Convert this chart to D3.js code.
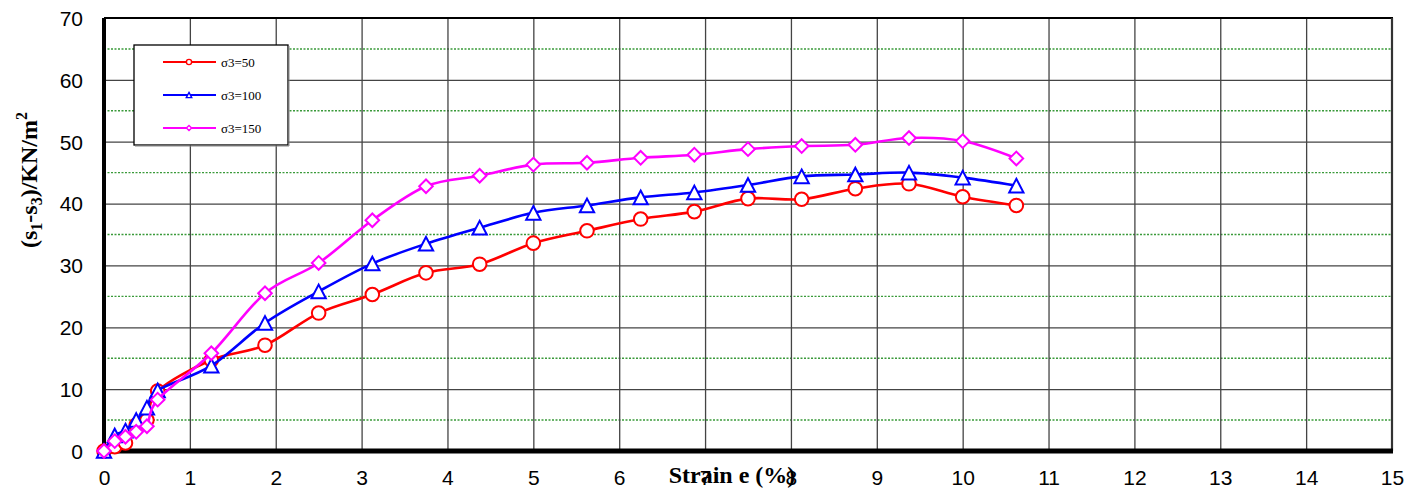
<!DOCTYPE html>
<html><head><meta charset="utf-8">
<script src="https://cdn.jsdelivr.net/npm/d3@7"></script>
<style>body{margin:0;background:#fff}svg{display:block}</style></head>
<body><svg id="c" width="1423" height="492"></svg>
<script>
const strain=[0,0.125,0.25,0.375,0.5,0.625,1.25,1.875,2.5,3.125,3.75,4.375,5,5.625,6.25,6.875,7.5,8.125,8.75,9.375,10,10.625];
const s50 =[0,0.7,1.3,4.2,5.0,9.7,14.7,17.1,22.3,25.3,28.8,30.2,33.6,35.6,37.5,38.7,40.8,40.7,42.4,43.2,41.1,39.7];
const s100=[0,2.5,3.3,5.0,7.0,9.8,13.8,20.7,25.8,30.3,33.5,36.1,38.5,39.7,41.0,41.8,43.0,44.4,44.7,45.0,44.2,42.9];
const s150=[0,1.6,2.3,3.1,4.0,8.3,15.8,25.5,30.4,37.3,42.8,44.5,46.3,46.6,47.4,47.9,48.8,49.3,49.5,50.6,50.1,47.3];
const seriesNames=["σ3=50","σ3=100","σ3=150"];
const seriesColors=["#ff0000","#0000ff","#ff00ff"];
const seriesMarkers=["circle","triangle","diamond"];
const xTicks=d3.range(0,16,1);
const yTicks=d3.range(0,71,10);
const yMinor=d3.range(5,70,10);

const svg=d3.select("#c");
const x=d3.scaleLinear().domain([0,15]).range([104,1392]);
const y=d3.scaleLinear().domain([0,70]).range([451,18]);
const SANS="Liberation Sans, Arial, sans-serif";
const SERIF="Liberation Serif, Times New Roman, serif";

// minor green dotted gridlines
svg.append("g").selectAll("line").data(yMinor).join("line")
  .attr("x1",x(0)).attr("x2",x(15)).attr("y1",d=>y(d)).attr("y2",d=>y(d))
  .attr("stroke","#3a9a3a").attr("stroke-width",1.4).attr("stroke-dasharray","2,1.5");

// vertical gridlines via axis
const gx=svg.append("g").attr("transform",`translate(0,${y(0)})`)
  .call(d3.axisBottom(x).tickValues(xTicks).tickSize(-(y(0)-y(70))).tickFormat(d3.format("d")).tickPadding(19));
gx.select(".domain").remove();
gx.selectAll(".tick line").attr("stroke","#444").attr("stroke-width",1.3)
  .attr("display",d=>(d===0||d===15)?"none":null);
gx.selectAll(".tick text").attr("font-family",SANS).attr("font-size",21).attr("fill","#000");

// horizontal gridlines via axis
const gy=svg.append("g").attr("transform",`translate(${x(0)},0)`)
  .call(d3.axisLeft(y).tickValues(yTicks).tickSize(-(x(15)-x(0))).tickFormat(d3.format("d")).tickPadding(21));
gy.select(".domain").remove();
gy.selectAll(".tick line").attr("stroke","#444").attr("stroke-width",1.3)
  .attr("display",d=>(d===0||d===70)?"none":null);
gy.selectAll(".tick text").attr("font-family",SANS).attr("font-size",21).attr("fill","#000").attr("dy","0.35em");

// frame
svg.append("line").attr("x1",x(0)).attr("x2",x(15)+1).attr("y1",y(70)).attr("y2",y(70)).attr("stroke","#000").attr("stroke-width",2);
svg.append("line").attr("x1",x(15)).attr("x2",x(15)).attr("y1",y(70)).attr("y2",y(0)).attr("stroke","#333").attr("stroke-width",2.2);
svg.append("line").attr("x1",x(0)).attr("x2",x(0)).attr("y1",y(70)).attr("y2",y(0)+3).attr("stroke","#000").attr("stroke-width",4);
svg.append("line").attr("x1",x(0)-2).attr("x2",x(15)+1).attr("y1",y(0)).attr("y2",y(0)).attr("stroke","#000").attr("stroke-width",5);

function marker(sel,type,size){
  if(type==="circle"){
    sel.append("circle").attr("r",size);
  } else if(type==="triangle"){
    sel.append("path").attr("d",`M0,${-size}L${size*1.05},${size}L${-size*1.05},${size}Z`);
  } else {
    sel.append("path").attr("d",`M0,${-size}L${size},0L0,${size}L${-size},0Z`);
  }
}

const data=[s50,s100,s150];
const line=d3.line().curve(d3.curveCatmullRom.alpha(0)).x(d=>x(d[0])).y(d=>y(d[1]));
data.forEach((vals,i)=>{
  const pts=strain.map((s,j)=>[s,vals[j]]);
  const g=svg.append("g");
  g.append("path").attr("d",line(pts)).attr("fill","none").attr("stroke",seriesColors[i]).attr("stroke-width",2.6);
  const sz=6.8;
  g.selectAll("g.m").data(pts).join("g").attr("class","m")
    .attr("transform",d=>`translate(${x(d[0])},${y(d[1])})`)
    .each(function(){ marker(d3.select(this),seriesMarkers[i],sz); })
    .selectAll("circle,path").attr("fill","#fff").attr("stroke",seriesColors[i]).attr("stroke-width",2);
});

// legend
const lg=svg.append("g");
lg.append("rect").attr("x",134).attr("y",45).attr("width",154).attr("height",100)
  .attr("fill","#fff").attr("stroke","#000").attr("stroke-width",1.3);
lg.append("line").attr("x1",135).attr("x2",289).attr("y1",146).attr("y2",146).attr("stroke","#888").attr("stroke-width",1);
lg.append("line").attr("x1",289).attr("x2",289).attr("y1",46).attr("y2",146).attr("stroke","#888").attr("stroke-width",1);
seriesNames.forEach((n,i)=>{
  const yy=62+i*33;
  lg.append("line").attr("x1",163).attr("x2",216).attr("y1",yy).attr("y2",yy).attr("stroke",seriesColors[i]).attr("stroke-width",2.2);
  const m=lg.append("g").attr("transform",`translate(189,${yy})`);
  marker(m,seriesMarkers[i],2.6);
  m.selectAll("circle,path").attr("fill","#fff").attr("stroke",seriesColors[i]).attr("stroke-width",1.4);
  lg.append("text").attr("x",221).attr("y",yy).attr("dy","0.35em").attr("font-family",SERIF).attr("font-size",13).text(n);
});

// axis titles
svg.append("text").attr("x",732).attr("y",483).attr("text-anchor","middle")
  .attr("font-family",SERIF).attr("font-weight","bold").attr("font-size",24).text("Strain e (%)");
const yl=svg.append("text").attr("transform","translate(37,180) rotate(-90)").attr("text-anchor","middle")
  .attr("font-family",SERIF).attr("font-weight","bold").attr("font-size",24);
yl.append("tspan").text("(s");
yl.append("tspan").attr("font-size",16).attr("dy",5).text("1");
yl.append("tspan").attr("dy",-5).text("-s");
yl.append("tspan").attr("font-size",16).attr("dy",5).text("3");
yl.append("tspan").attr("dy",-5).text(")/KN/m");
yl.append("tspan").attr("font-size",16).attr("dy",-10).text("2");
</script></body></html>
